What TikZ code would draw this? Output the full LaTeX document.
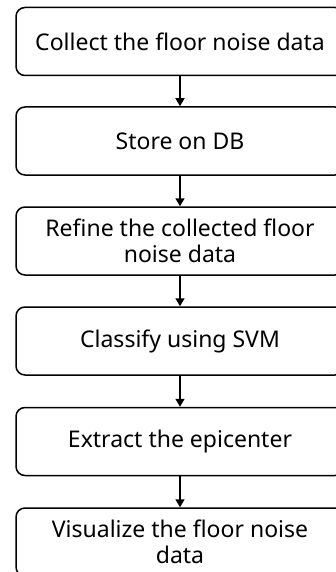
\documentclass[tikz,border=0pt]{standalone}
\usepackage{fontspec}
\setmainfont{Noto Sans}
\usetikzlibrary{arrows.meta}
\begin{document}
\begin{tikzpicture}[x=1pt,y=1pt,
  stepbox/.style={draw=black, line width=1.5pt, rounded corners=9pt,
    minimum width=328pt, minimum height=68pt, align=center,
    font=\fontsize{23}{26}\selectfont, inner sep=0pt},
  flow/.style={-{Triangle[length=8pt,width=9pt]}, line width=1.5pt}]
\useasboundingbox (0,0) rectangle (336,-572);
\clip (0,0) rectangle (336,-572);
\node[stepbox] (s1) at (180,-41.5) {Collect the floor noise data};
\node[stepbox] (s2) at (180,-141) {Store on DB};
\node[stepbox] (s3) at (180,-241) {Refine the collected floor\\noise data};
\node[stepbox] (s4) at (180,-341) {Classify using SVM};
\node[stepbox] (s5) at (180,-441.5) {Extract the epicenter};
\node[stepbox] (s6) at (180,-542) {Visualize the floor noise\\data};
\draw[flow] (s1) -- (s2);
\draw[flow] (s2) -- (s3);
\draw[flow] (s3) -- (s4);
\draw[flow] (s4) -- (s5);
\draw[flow] (s5) -- (s6);
\end{tikzpicture}
\end{document}
